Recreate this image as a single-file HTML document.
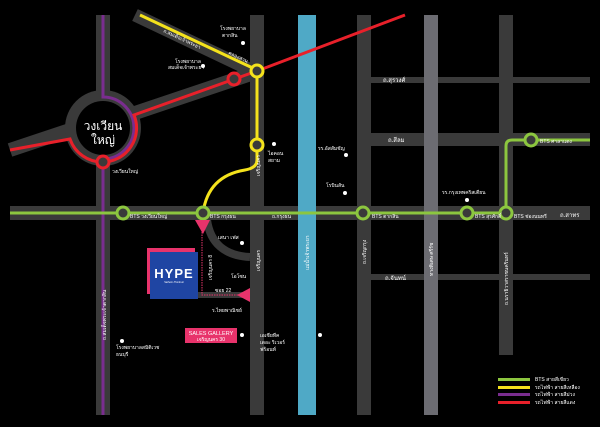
<!DOCTYPE html>
<html><head><meta charset="utf-8"><style>
html,body{margin:0;padding:0;background:#000;}
svg{display:block;}
text{font-family:"Liberation Sans","DejaVu Sans",sans-serif;fill:#fff;}
</style></head><body>
<svg width="600" height="427" viewBox="0 0 600 427" xmlns="http://www.w3.org/2000/svg">
<rect width="600" height="427" fill="#000"/>
<g fill="#3a3a3a" stroke="none">
<rect x="96" y="15" width="14" height="400"/>
<rect x="250" y="15" width="14" height="400"/>
<rect x="357" y="15" width="14" height="400"/>
<rect x="499" y="15" width="14" height="340"/>
<rect x="10" y="206" width="580" height="14"/>
<rect x="370" y="77" width="220" height="6"/>
<rect x="370" y="133" width="220" height="13"/>
<rect x="370" y="274" width="220" height="6"/>
<rect x="198" y="292" width="52" height="6"/>
</g>
<g stroke="#3a3a3a" fill="none">
<line x1="135" y1="15" x2="257" y2="73" stroke-width="13"/>
<line x1="10" y1="150" x2="70" y2="130" stroke-width="14"/>
<line x1="135" y1="113" x2="257" y2="72" stroke-width="14"/>
<path d="M207 220 Q212 255 250 257" stroke-width="8"/>
</g>
<circle cx="103" cy="128" r="38" fill="#3a3a3a"/>
<circle cx="103" cy="128" r="27" fill="#000"/>
<rect x="298" y="15" width="18" height="400" fill="#4fa9c6"/>
<rect x="424" y="15" width="14" height="400" fill="#6c6c72"/>
<path d="M103 15 V97 A31 31 0 0 1 103 159 V415" stroke="#7a2d8f" stroke-width="3" fill="none"/>
<path d="M10 150 L70 139 A34 34 0 0 0 103 162 A34 34 0 0 0 134 115 L257 71 L405 15" stroke="#e8202a" stroke-width="3" fill="none"/>
<path d="M140 15 L257 70 V160 Q257 168 245 170 Q208 176 203 213" stroke="#f4e21c" stroke-width="3" fill="none"/>
<path d="M10 213 H506 V146 Q506 140 512 140 H590" stroke="#8cc63f" stroke-width="3" fill="none"/>
<g fill="#3a3a3a" stroke-width="3">
<circle cx="103" cy="162" r="6" stroke="#e8202a"/>
<circle cx="234" cy="79" r="6" stroke="#e8202a"/>
<circle cx="257" cy="71" r="6" stroke="#f4e21c"/>
<circle cx="257" cy="145" r="6" stroke="#f4e21c"/>
<g stroke="#8cc63f">
<circle cx="123" cy="213" r="6"/><circle cx="203" cy="213" r="6"/><circle cx="363" cy="213" r="6"/>
<circle cx="467" cy="213" r="6"/><circle cx="506" cy="213" r="6"/><circle cx="531" cy="140" r="6"/>
</g></g>
<text x="103" y="130" font-size="12" text-anchor="middle">วงเวียน</text>
<text x="103" y="144" font-size="12" text-anchor="middle">ใหญ่</text>
<g font-size="5">
<text x="112" y="173">วงเวียนใหญ่</text>
<text x="130" y="218">BTS วงเวียนใหญ่</text>
<text x="210" y="218">BTS กรุงธน</text>
<text x="272" y="218">ถ.กรุงธน</text>
<text x="372" y="218">BTS ตากสิน</text>
<text x="475" y="218">BTS สุรศักดิ์</text>
<text x="514" y="218">BTS ช่องนนทรี</text>
<text x="540" y="143">BTS ศาลาแดง</text>
<text x="220" y="30">โรงพยาบาล</text><text x="222" y="37">ตากสิน</text>
<text x="175" y="63">โรงพยาบาล</text><text x="168" y="69">สมเด็จเจ้าพระยา</text>
<text x="268" y="155">ไอคอน</text><text x="268" y="162">สยาม</text>
<text x="318" y="150">รร.อัสสัมชัญ</text>
<text x="326" y="187">โรบินสัน</text>
<text x="442" y="194">รร.กรุงเทพคริสเตียน</text>
<text x="383" y="82" font-size="6">ถ.สุรวงศ์</text>
<text x="388" y="142" font-size="6">ถ.สีลม</text>
<text x="385" y="280" font-size="6">ถ.จันทน์</text>
<text x="560" y="217" font-size="6">ถ.สาทร</text>
<text x="218" y="239">เสนา เฟส</text>
<text x="231" y="278">โอโซน</text>
<text x="215" y="292">ซอย 22</text>
<text x="212" y="312">ร.ไทยพาณิชย์</text>
<text x="260" y="337">เอเชียทีค</text><text x="260" y="344">เดอะ ริเวอร์</text><text x="260" y="351">ฟร้อนท์</text>
<text x="116" y="349">โรงพยาบาลสมิติเวช</text><text x="116" y="356">ธนบุรี</text>
<text x="535" y="381">BTS สายสีเขียว</text>
<text x="535" y="389">รถไฟฟ้า สายสีเหลือง</text>
<text x="535" y="396">รถไฟฟ้า สายสีม่วง</text>
<text x="535" y="404">รถไฟฟ้า สายสีแดง</text>
</g>
<g fill="#fff">
<circle cx="243" cy="43" r="2"/><circle cx="203" cy="66" r="2"/><circle cx="274" cy="144" r="2"/>
<circle cx="346" cy="155" r="2"/><circle cx="345" cy="193" r="2"/><circle cx="467" cy="200" r="2"/>
<circle cx="242" cy="243" r="2"/><circle cx="242" cy="335" r="2"/><circle cx="320" cy="335" r="2"/>
<circle cx="122" cy="341" r="2"/>
</g>
<rect x="498" y="378" width="32" height="3" fill="#8cc63f"/>
<rect x="498" y="386" width="32" height="3" fill="#f4e21c"/>
<rect x="498" y="393" width="32" height="3" fill="#7a2d8f"/>
<rect x="498" y="401" width="32" height="3" fill="#e8202a"/>
<path d="M202 232 V295 H245" stroke="#e8336b" stroke-width="1" stroke-dasharray="1.5 1" fill="none"/>
<polygon points="195,220 210,220 203,234" fill="#e8336b"/>
<polygon points="250,288 250,302 237,295" fill="#e8336b"/>
<rect x="147" y="248" width="48" height="46" fill="#e8336b"/>
<rect x="150" y="252" width="48" height="47" fill="#1f45a3"/>
<text x="174" y="278" font-size="13" font-weight="bold" text-anchor="middle" letter-spacing="1">HYPE</text>
<text x="174" y="283" font-size="2.5" text-anchor="middle">Sathorn-Thonburi</text>
<rect x="185" y="328" width="52" height="15" fill="#e8336b"/>
<text x="211" y="335" font-size="5.5" text-anchor="middle">SALES GALLERY</text>
<text x="211" y="341" font-size="5" text-anchor="middle">เจริญนคร 30</text>
<g font-size="5">
<text transform="translate(260,176) rotate(-90)">เจริญนคร</text>
<text transform="translate(260,271) rotate(-90)">เจริญนคร</text>
<text transform="translate(309,270) rotate(-90)">แม่น้ำเจ้าพระยา</text>
<text transform="translate(366,264) rotate(-90)">ถ.เจริญกรุง</text>
<text transform="translate(433,276) rotate(-90)">ทางพิเศษ ศรีรัช</text>
<text transform="translate(508,305) rotate(-90)">ถ.นราธิวาสราชนครินทร์</text>
<text transform="translate(106,340) rotate(-90)">ถ.สมเด็จพระเจ้าตากสิน</text>
<text transform="translate(212,280) rotate(-90)">เจริญนคร 8</text>
<text transform="translate(163,32) rotate(25)">ถ.สมเด็จเจ้าพระยา</text>
<text transform="translate(228,54) rotate(25)">คลองสาน</text>
</g>
</svg>
</body></html>
